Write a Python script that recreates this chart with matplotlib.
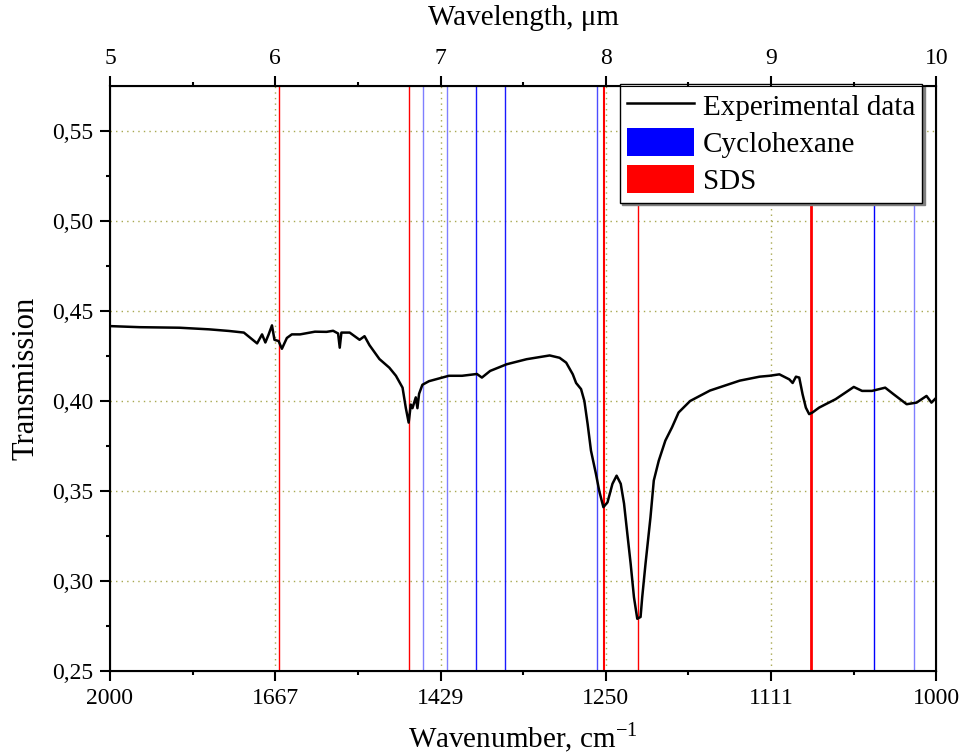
import matplotlib
matplotlib.use("Agg")
import matplotlib.pyplot as plt
from matplotlib.lines import Line2D
from matplotlib.patches import Patch

plt.rcParams['font.family'] = ['Liberation Serif', 'DejaVu Serif']
plt.rcParams['mathtext.fontset'] = 'custom'
plt.rcParams['mathtext.rm'] = 'Liberation Serif'

# measured spectrum, x in wavelength (um)
wavelength = [5.00, 5.18, 5.42, 5.60, 5.72, 5.81, 5.89, 5.92, 5.94, 5.96,
              5.98, 5.995, 6.02, 6.04, 6.07, 6.10, 6.15, 6.24, 6.31, 6.35,
              6.38, 6.39, 6.40, 6.45, 6.51, 6.54, 6.57, 6.63, 6.69, 6.73,
              6.77, 6.79, 6.807, 6.82, 6.83, 6.85, 6.86, 6.87, 6.89, 6.93,
              7.01, 7.05, 7.13, 7.22, 7.25, 7.30, 7.40, 7.52, 7.64, 7.66,
              7.72, 7.76, 7.80, 7.82, 7.85, 7.87, 7.89, 7.91, 7.94, 7.96,
              7.985, 8.01, 8.04, 8.065, 8.09, 8.11, 8.13, 8.15, 8.17, 8.19,
              8.21, 8.22, 8.24, 8.27, 8.29, 8.32, 8.36, 8.40, 8.44, 8.51,
              8.63, 8.81, 8.93, 8.99, 9.05, 9.11, 9.13, 9.15, 9.17, 9.19,
              9.21, 9.23, 9.25, 9.29, 9.33, 9.39, 9.45, 9.50, 9.55, 9.61,
              9.69, 9.74, 9.82, 9.88, 9.94, 9.97, 10.00]
transmission = [0.4416, 0.4410, 0.4407, 0.4398, 0.4389, 0.4380, 0.4320, 0.4370, 0.4325, 0.4370,
                0.4420, 0.4340, 0.4333, 0.4290, 0.4350, 0.4370, 0.4370, 0.4385, 0.4384, 0.4390,
                0.4375, 0.4296, 0.4380, 0.4380, 0.4340, 0.4360, 0.4310, 0.4233, 0.4185, 0.4140,
                0.4074, 0.3960, 0.3880, 0.3980, 0.3960, 0.4020, 0.3960, 0.4040, 0.4090, 0.4110,
                0.4130, 0.4140, 0.4140, 0.4150, 0.4130, 0.4167, 0.4204, 0.4232, 0.4250, 0.4253,
                0.4240, 0.4213, 0.4148, 0.4100, 0.4066, 0.4000, 0.3870, 0.3724, 0.3595, 0.3500,
                0.3410, 0.3437, 0.3540, 0.3585, 0.3540, 0.3430, 0.3262, 0.3096, 0.2910, 0.2790,
                0.2800, 0.2910, 0.3096, 0.3354, 0.3558, 0.3668, 0.3780, 0.3853, 0.3936, 0.4000,
                0.4058, 0.4113, 0.4135, 0.4140, 0.4148, 0.4120, 0.4100, 0.4135, 0.4130, 0.4038,
                0.3963, 0.3927, 0.3936, 0.3963, 0.3982, 0.4010, 0.4047, 0.4078, 0.4056, 0.4056,
                0.4074, 0.4038, 0.3982, 0.3991, 0.4028, 0.3991, 0.4019]

# reference band positions (um)
cyclohexane_lines = [6.896, 7.038, 7.213, 7.392, 7.949, 9.622, 9.864]
cyclohexane_alpha = [0.5, 0.5, 0.9, 0.9, 0.7, 1.0, 0.5]
sds_lines = [6.023, 6.808, 7.986, 8.195, 9.239]
sds_width = [1.0, 1.0, 1.5, 1.0, 2.0]

wl_ticks = [5, 6, 7, 8, 9, 10]
wavenumber_labels = ['2000', '1667', '1429', '1250', '1111', '1000']
y_ticks = [0.25, 0.30, 0.35, 0.40, 0.45, 0.50, 0.55]

fig = plt.figure(figsize=(9.64, 7.55), dpi=100)
ax = fig.add_axes([0.1141, 0.1113, 0.8573, 0.7748])

grid_kw = dict(color='#a8a850', lw=1.0, ls=(0, (1, 3)), zorder=0)
for x in wl_ticks[1:-1]:
    ax.axvline(x, **grid_kw)
for y in y_ticks[1:]:
    ax.axhline(y, **grid_kw)

for x, a in zip(cyclohexane_lines, cyclohexane_alpha):
    ax.axvline(x, color='blue', lw=1.0, alpha=a, zorder=1)
for x, w in zip(sds_lines, sds_width):
    ax.axvline(x, color='red', lw=w, zorder=1)

ax.plot(wavelength, transmission, color='black', lw=1.8, zorder=3)

ax.set_xlim(5, 10)
ax.set_ylim(0.25, 0.575)
ax.set_xticks(wl_ticks)
ax.set_xticklabels(wavenumber_labels)
ax.set_xticks([5.5, 6.5, 7.5, 8.5, 9.5], minor=True)
ax.set_yticks(y_ticks)
ax.set_yticklabels([('%.2f' % v).replace('.', ',') for v in y_ticks])
ax.set_yticks([0.275, 0.325, 0.375, 0.425, 0.475, 0.525], minor=True)
ax.tick_params(which='major', direction='out', length=7, width=1.5, labelsize=17,
               pad=5, right=False)
ax.tick_params(which='minor', direction='out', length=3, width=1.5, right=False)
for s in ax.spines.values():
    s.set_linewidth(1.5)

ax.set_xlabel(r'Wavenumber, cm$^{-1}$', fontsize=21, labelpad=9)
ax.set_ylabel('Transmission', fontsize=22, labelpad=8)

top = ax.twiny()
top.set_xlim(5, 10)
top.set_xticks(wl_ticks)
top.set_xticklabels([str(v) for v in wl_ticks])
top.set_xticks([5.5, 6.5, 7.5, 8.5, 9.5], minor=True)
top.tick_params(which='major', direction='out', length=7, width=1.5, labelsize=17, pad=5)
top.tick_params(which='minor', direction='out', length=3, width=1.5)
top.set_xlabel('Wavelength, μm', fontsize=21, labelpad=17)

handles = [Line2D([], [], color='black', lw=1.8),
           Patch(facecolor='blue', edgecolor='none'),
           Patch(facecolor='red', edgecolor='none')]
leg = ax.legend(handles, ['Experimental data', 'Cyclohexane', 'SDS'],
                loc='upper right', bbox_to_anchor=(0.983, 1.004), fontsize=21,
                frameon=True, fancybox=False, shadow={'color': '0.5', 'alpha': 1},
                handlelength=2.3, handleheight=1.1, handletextpad=0.3,
                labelspacing=0.25, borderpad=0.25, borderaxespad=0)
leg.get_frame().set_edgecolor('black')
leg.get_frame().set_linewidth(1.0)
leg.set_zorder(5)

fig.savefig('out.png', dpi=100)
